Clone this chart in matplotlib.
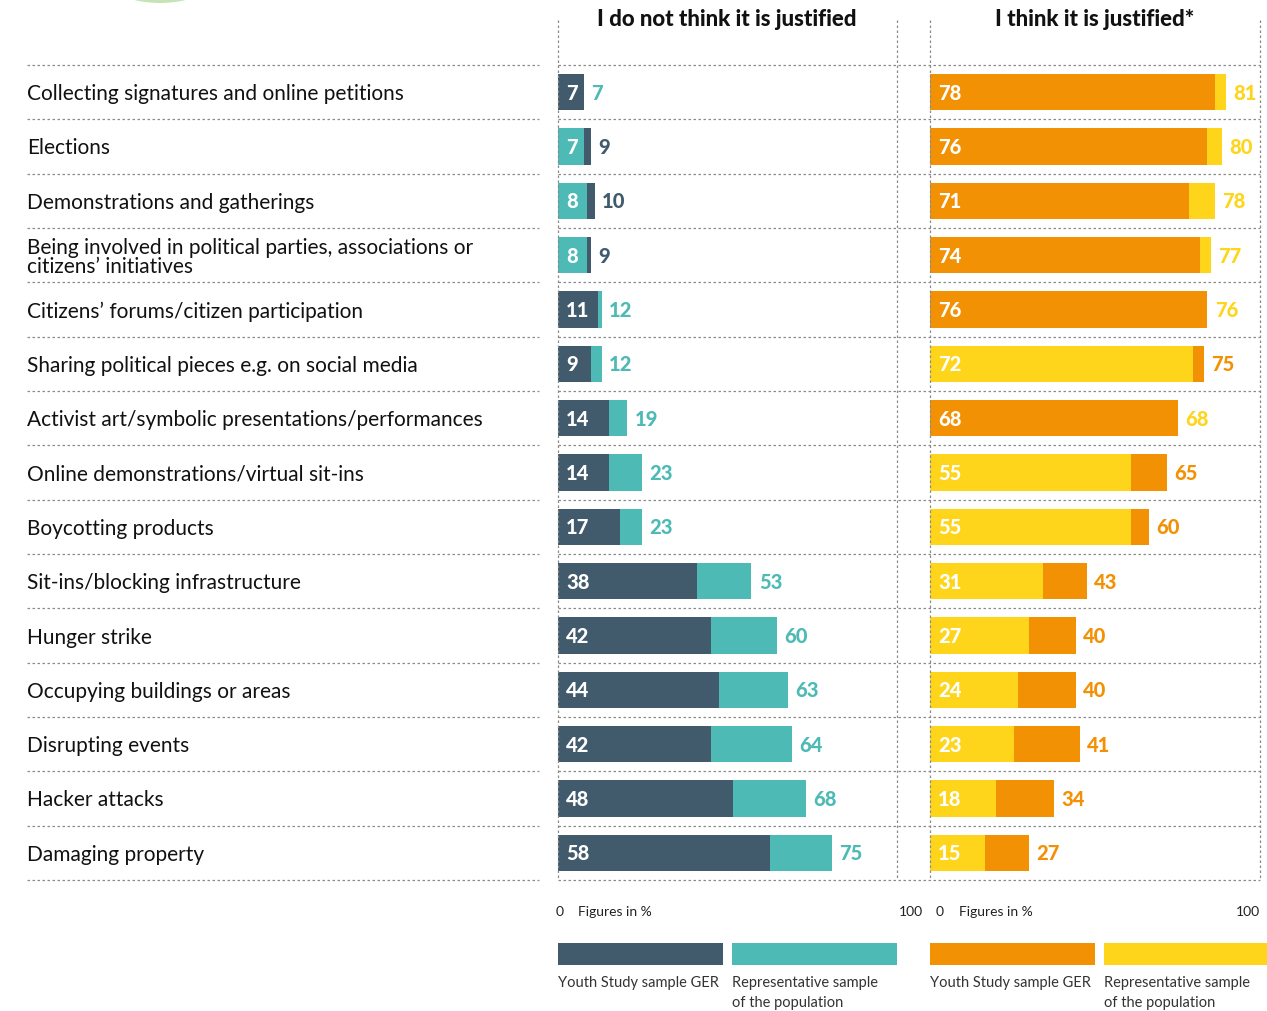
import matplotlib.pyplot as plt
import numpy as np
from matplotlib.lines import Line2D
from matplotlib.patches import Ellipse, Rectangle

plt.rcParams['font.family'] = ['Lato', 'DejaVu Sans']

categories = [
    'Collecting signatures and online petitions',
    'Elections',
    'Demonstrations and gatherings',
    'Being involved in political parties, associations or\ncitizens\u2019 initiatives',
    'Citizens\u2019 forums/citizen participation',
    'Sharing political pieces e.g. on social media',
    'Activist art/symbolic presentations/performances',
    'Online demonstrations/virtual sit-ins',
    'Boycotting products',
    'Sit-ins/blocking infrastructure',
    'Hunger strike',
    'Occupying buildings or areas',
    'Disrupting events',
    'Hacker attacks',
    'Damaging property',
]

# "I do not think it is justified"
not_youth = [7, 9, 10, 9, 11, 9, 14, 14, 17, 38, 42, 44, 42, 48, 58]
not_pop = [7, 7, 8, 8, 12, 12, 19, 23, 23, 53, 60, 63, 64, 68, 75]

# "I think it is justified*"
just_youth = [78, 76, 71, 74, 76, 75, 68, 65, 60, 43, 40, 40, 41, 34, 27]
just_pop = [81, 80, 78, 77, 76, 72, 68, 55, 55, 31, 27, 24, 23, 18, 15]

SLATE = '#415a6c'
TEAL = '#4dbab5'
ORANGE = '#f29104'
YELLOW = '#fed51a'
GRID = '#8a8a8a'

W, H = 1267, 1011
fig = plt.figure(figsize=(W / 100, H / 100), dpi=100)

def fx(px):
    return px / W

def fy(py):
    return 1 - py / H

ROW_TOP, ROW_BOT = 65, 880
n = len(categories)
row_h = (ROW_BOT - ROW_TOP) / n
PX_PER_UNIT = 3.65


def panel(x0, x1, youth, pop, c_youth, c_pop):
    ax = fig.add_axes([fx(x0), fy(ROW_BOT), fx(x1) - fx(x0), (ROW_BOT - ROW_TOP) / H])
    ax.set_xlim(0, (x1 - x0) / PX_PER_UNIT)
    ax.set_ylim(n, 0)
    ax.axis('off')
    y = np.arange(n) + 0.5
    for i in range(n):
        yv, pv = youth[i], pop[i]
        # larger value behind, smaller one in front (youth in front on ties)
        if yv > pv:
            back, back_c, front, front_c = yv, c_youth, pv, c_pop
        else:
            back, back_c, front, front_c = pv, c_pop, yv, c_youth
        ax.barh(y[i], back, height=0.67, color=back_c, zorder=2)
        ax.barh(y[i], front, height=0.67, color=front_c, zorder=3)
        ax.text(2.2, y[i] + 0.02, str(front), color='white', fontsize=14.5,
                fontweight='black', va='center', ha='left', zorder=4)
        ax.text(back + 2.0, y[i] + 0.02, str(back), color=back_c, fontsize=14.5,
                fontweight='black', va='center', ha='left', zorder=4)
    return ax


panel(558, 897, not_youth, not_pop, SLATE, TEAL)
panel(930, 1260, just_youth, just_pop, ORANGE, YELLOW)

# dotted grid lines between rows
dot = dict(color=GRID, lw=0.9, linestyle=(0, (2, 2)))
for k in range(n + 1):
    yy = fy(ROW_TOP + k * row_h)
    fig.add_artist(Line2D([fx(27), fx(539)], [yy, yy], **dot))
    fig.add_artist(Line2D([fx(558), fx(1260)], [yy, yy], **dot))
for xx in (558, 897, 930, 1260):
    fig.add_artist(Line2D([fx(xx), fx(xx)], [fy(20), fy(ROW_BOT)], **dot))

# category labels
for k, label in enumerate(categories):
    fig.text(fx(27), fy(ROW_TOP + (k + 0.5) * row_h + 2), label, fontsize=15,
             color='#111111', va='center', ha='left', linespacing=0.95)

# panel titles
fig.text(fx(727), fy(19), 'I do not think it is justified', fontsize=16,
         fontweight='black', ha='center', va='center', color='#111111')
fig.text(fx(1095), fy(19), 'I think it is justified*', fontsize=16,
         fontweight='black', ha='center', va='center', color='#111111')

# scale notes
note = dict(fontsize=10, color='#222222', va='center')
fig.text(fx(556), fy(912), '0', ha='left', **note)
fig.text(fx(578), fy(912), 'Figures in %', ha='left', **note)
fig.text(fx(923), fy(912), '100', ha='right', **note)
fig.text(fx(936), fy(912), '0', ha='left', **note)
fig.text(fx(959), fy(912), 'Figures in %', ha='left', **note)
fig.text(fx(1260), fy(912), '100', ha='right', **note)

# legend swatches
legend = [
    (558, 723, SLATE, 'Youth Study sample GER'),
    (732, 897, TEAL, 'Representative sample\nof the population'),
    (930, 1095, ORANGE, 'Youth Study sample GER'),
    (1104, 1267, YELLOW, 'Representative sample\nof the population'),
]
for x0, x1, c, txt in legend:
    fig.add_artist(Rectangle((fx(x0), fy(965)), fx(x1) - fx(x0), 22 / H,
                             color=c, lw=0))
    fig.text(fx(x0), fy(976), txt, fontsize=10.5, color='#333333',
             ha='left', va='top', linespacing=1.5)

# decorative green disc at the top edge
fig.add_artist(Ellipse((fx(160), fy(-40)), 140 / W, 86 / H, color='#b8dca0',
                       lw=0, alpha=0.8))

fig.savefig('out.png', dpi=100, facecolor='white')
